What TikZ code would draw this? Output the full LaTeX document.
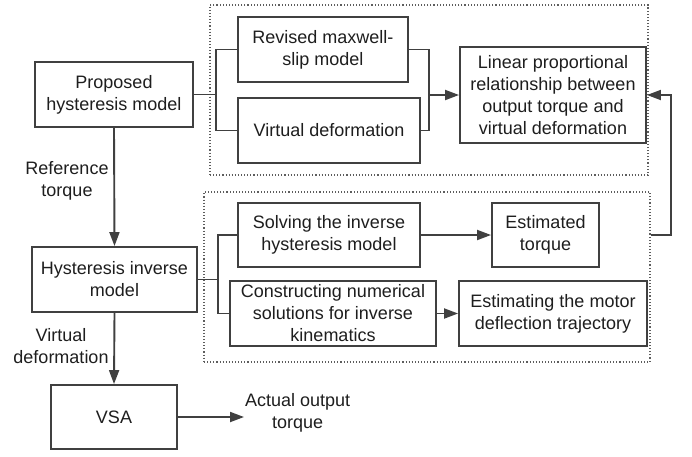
\documentclass[tikz,border=0pt]{standalone}
\usepackage{fontspec}
\setmainfont{Liberation Sans}
\usetikzlibrary{arrows.meta}
\definecolor{edge}{HTML}{404040}
\definecolor{ink}{HTML}{1E1E1E}
\begin{document}
\begin{tikzpicture}[x=1pt,y=-1pt,
  every node/.style={text=ink, font=\fontsize{18}{22}\selectfont, align=center},
  blk/.style={draw=edge, line width=1.9pt, inner sep=2pt, fill=white},
  grp/.style={draw=edge!85, line width=1.1pt, dotted},
  lbl/.style={inner sep=1pt},
  conn/.style={draw=edge, line width=1.9pt},
  arr/.style={conn, -{Triangle[length=14pt,width=10pt]}}]
\useasboundingbox (0,0) rectangle (692,456);

% dotted groupings
\node[grp, minimum width=438, minimum height=170] (grpA) at (429,90) {};
\node[grp, minimum width=446, minimum height=170] (grpB) at (427,277) {};

% blocks
\node[blk, minimum width=158, minimum height=65] (prop) at (114,94.5) {Proposed\\hysteresis model};
\node[blk, minimum width=170, minimum height=65] (rev) at (323,49.5) {Revised maxwell-\\slip model};
\node[blk, minimum width=182, minimum height=65] (vd) at (329,130.5) {Virtual deformation};
\node[blk, minimum width=186, minimum height=96] (lin) at (553,95) {Linear proportional\\relationship between\\output torque and\\virtual deformation};
\node[blk, minimum width=165, minimum height=65] (hyst) at (114.5,279.5) {Hysteresis inverse\\model};
\node[blk, minimum width=182, minimum height=64] (solve) at (329,235) {Solving the inverse\\hysteresis model};
\node[blk, minimum width=206, minimum height=65] (cons) at (333,313.5) {Constructing numerical\\solutions for inverse\\kinematics};
\node[blk, minimum width=107, minimum height=64] (est) at (545.5,235) {Estimated\\torque};
\node[blk, minimum width=188, minimum height=65] (motor) at (553,313.5) {Estimating the motor\\deflection trajectory};
\node[blk, minimum width=126, minimum height=64] (vsa) at (114,417) {VSA};

% free labels
\node[lbl] (reft) at (67,181) {Reference\\torque};
\node[lbl] (vdef) at (61,346) {Virtual\\deformation};
\node[lbl, anchor=west] (act) at (244,413) {Actual output\\torque};

% upper branch
\draw[conn] (prop.east) -- ++(22,0) coordinate (j1);
\draw[conn] (rev.west) -| (j1) |- (vd.west);
\coordinate (j2) at (429,95);
\draw[conn] (rev.east) -| (j2) |- (vd.east);
\draw[arr] (j2) -- (lin.west);

% lower branch
\draw[conn] (hyst.east) -- ++(20,0) coordinate (j3);
\draw[conn] (solve.west) -| (j3) |- (cons.west);
\draw[arr] (solve.east) -- (est.west);
\draw[arr] (cons.east) -- (motor.west);

% feedback from the lower group to the linear relationship
\draw[arr] (grpB.east |- est.east) -- ++(20,0) |- (lin.east);

% main chain
\draw[arr] (prop.south) -- (hyst.north);
\draw[arr] (hyst.south) -- (vsa.north);
\draw[arr] (vsa.east) -- (vsa.east -| act.west);
\end{tikzpicture}
\end{document}
